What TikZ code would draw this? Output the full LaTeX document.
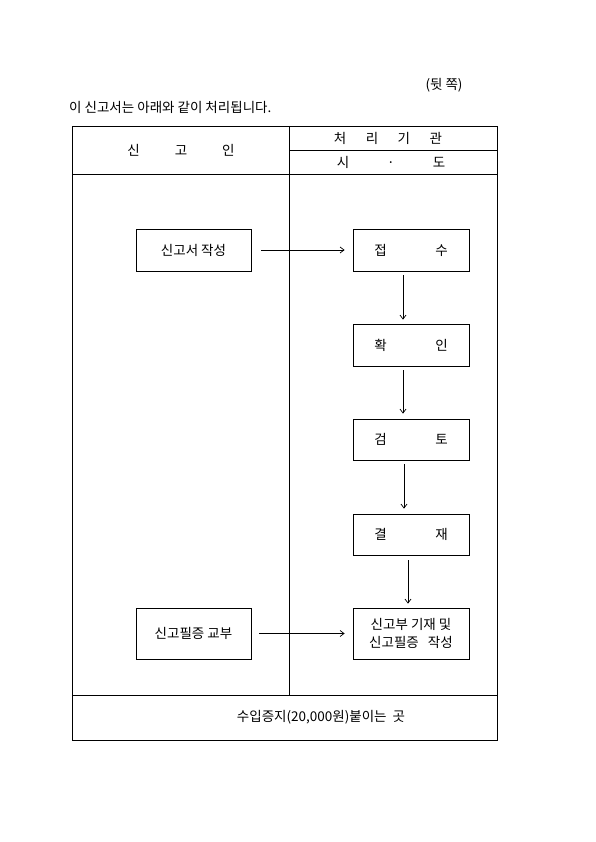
\documentclass[tikz,border=0pt]{standalone}
\usepackage{fontspec}
\setmainfont{Noto Sans CJK KR}
\usetikzlibrary{arrows.meta}
\begin{document}
\begin{tikzpicture}[x=1pt,y=-1pt,
  frame/.style={line width=0.9pt},
  flowbox/.style={draw,line width=0.8pt,minimum width=116pt,minimum height=42pt,inner sep=0pt,align=center,font=\fontsize{13.5}{18}\selectfont},
  flowarrow/.style={draw,line width=0.7pt,-{Straight Barb[length=4pt,width=6pt]}},
  txt/.style={inner sep=0pt,font=\fontsize{13.5}{15}\selectfont}]
\useasboundingbox (0,0) rectangle (595,842);
\fill[white] (0,0) rectangle (595,842);
% header texts
\node[txt] (side) at (444,85) {(뒷\ 쪽)};
\node[txt,anchor=west] (intro) at (69,107) {이\ 신고서는\ 아래와\ 같이\ 처리됩니다.};
% table
\draw[frame] (72,126) rectangle (497,740);
\coordinate (divtop) at (289,126);
\coordinate (divbot) at (289,695);
\draw[frame] (divtop) -- (divbot);
\draw[frame] (289,150) -- (497,150);
\draw[frame] (72,174) -- (497,174);
\draw[frame] (72,695) -- (497,695);
\node[txt] (h1) at (181,150) {신\hspace{35pt}고\hspace{35pt}인};
\node[txt] (h2) at (388,138) {처\hspace{19.5pt}리\hspace{19.5pt}기\hspace{19.5pt}관};
\node[txt] (h3) at (391,162) {시\hspace{38pt}·\hspace{38pt}도};
\node[txt] (stamp) at (321,717) {수입증지(20,000원)붙이는\ \ 곳};
% boxes
\node[flowbox,minimum width=115pt] (a1) at (193.5,250) {신고서\ 작성};
\node[flowbox,minimum height=51pt,minimum width=115pt] (a2) at (193.5,633.5) {신고필증\ 교부};
\node[flowbox] (b1) at (411,250) {접\hspace{48.5pt}수};
\node[flowbox] (b2) at (411,345) {확\hspace{48.5pt}인};
\node[flowbox,minimum height=41pt] (b3) at (411,439.5) {검\hspace{48.5pt}토};
\node[flowbox,minimum height=41pt] (b4) at (411,534.5) {결\hspace{48.5pt}재};
\node[flowbox,minimum height=51pt] (b5) at (411,633.5) {신고부\ 기재\ 및\\신고필증\ \ \ 작성};
% arrows
\draw[flowarrow] ([xshift=10pt]a1.east) -- ([xshift=-8pt]b1.west);
\draw[flowarrow] ([xshift=8pt]a2.east) -- ([xshift=-8pt]b5.west);
\draw[flowarrow] ([xshift=-8pt,yshift=-4pt]b1.south) -- ([xshift=-8pt,yshift=4pt]b2.north);
\draw[flowarrow] ([xshift=-8pt,yshift=-4pt]b2.south) -- ([xshift=-8pt,yshift=5pt]b3.north);
\draw[flowarrow] ([xshift=-7pt,yshift=-4pt]b3.south) -- ([xshift=-7pt,yshift=5pt]b4.north);
\draw[flowarrow] ([xshift=-3pt,yshift=-5pt]b4.south) -- ([xshift=-3pt,yshift=4pt]b5.north);
\end{tikzpicture}
\end{document}
